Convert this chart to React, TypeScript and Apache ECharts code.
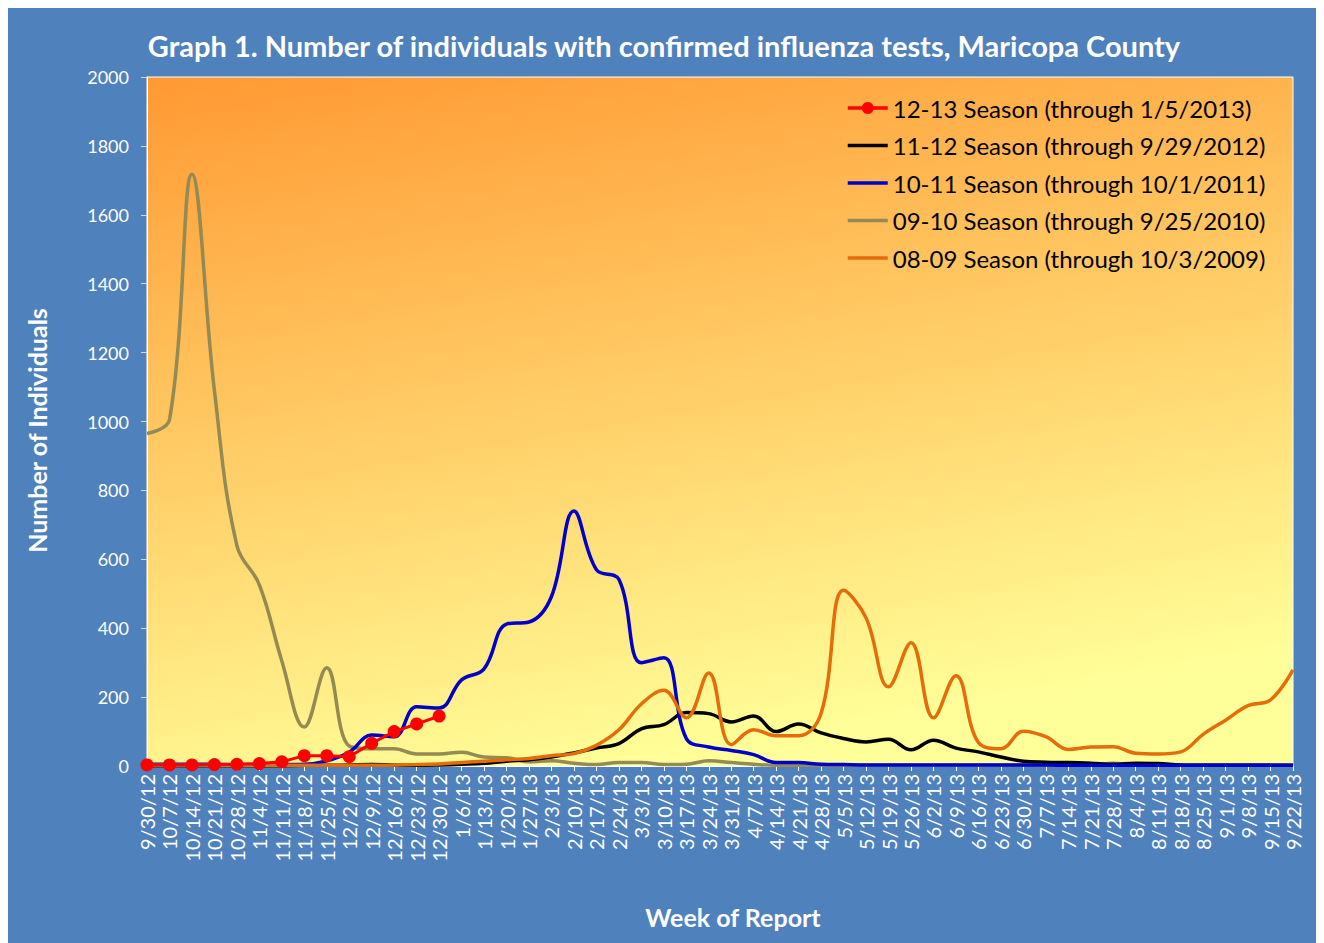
import React, { useEffect, useRef } from "react";
import * as echarts from "echarts";

const weeks = [
  "9/30/12", "10/7/12", "10/14/12", "10/21/12", "10/28/12", "11/4/12", "11/11/12", "11/18/12",
  "11/25/12", "12/2/12", "12/9/12", "12/16/12", "12/23/12", "12/30/12", "1/6/13", "1/13/13",
  "1/20/13", "1/27/13", "2/3/13", "2/10/13", "2/17/13", "2/24/13", "3/3/13", "3/10/13",
  "3/17/13", "3/24/13", "3/31/13", "4/7/13", "4/14/13", "4/21/13", "4/28/13", "5/5/13",
  "5/12/13", "5/19/13", "5/26/13", "6/2/13", "6/9/13", "6/16/13", "6/23/13", "6/30/13",
  "7/7/13", "7/14/13", "7/21/13", "7/28/13", "8/4/13", "8/11/13", "8/18/13", "8/25/13",
  "9/1/13", "9/8/13", "9/15/13", "9/22/13",
];

const season1213 = [3, 3, 3, 4, 5, 7, 12, 30, 30, 27, 66, 100, 122, 145];

const season1112 = [
  1, 1, 1, 1, 1, 1, 1, 2, 2, 3, 4, 3, 2, 3, 5, 8,
  14, 18, 26, 38, 52, 65, 108, 120, 155, 152, 128, 145, 100, 122, 96, 80,
  70, 78, 47, 75, 52, 41, 26, 14, 11, 10, 8, 5, 8, 7, 3, 2,
  2, 2, 2, 2,
];

const season1011 = [
  5, 5, 5, 5, 4, 4, 4, 5, 15, 40, 90, 85, 172, 168, 250, 282,
  412, 418, 492, 740, 570, 542, 300, 314, 80, 55, 45, 33, 10, 10, 5, 4,
  3, 3, 3, 3, 3, 3, 3, 3, 3, 2, 2, 2, 2, 2, 2, 2,
  2, 2, 2, 2,
];

const season0910 = [
  965, 1005, 1718, 1090, 640, 526, 305, 113, 285, 58, 50, 50, 35, 35, 40, 26,
  24, 12, 15, 8, 4, 10, 10, 4, 5, 15, 10, 5, 2, 2, 2, 2,
  2, 2, 2, 2, 2, 2, 2, 2, 2, 8, 2, 8, 2, 2, 2, 2,
  2, 2, 2,
];

const season0809 = [
  2, 2, 2, 2, 2, 2, 2, 2, 2, 2, 2, 3, 4, 6, 10, 14,
  18, 22, 30, 36, 60, 105, 180, 220, 140, 270, 62, 105, 88, 88, 153, 510,
  430, 230, 358, 140, 262, 68, 50, 101, 85, 48, 55, 56, 37, 35, 41, 92,
  133, 175, 192, 279,
];

const seriesNames = [
  "12-13 Season (through 1/5/2013)",
  "11-12 Season (through 9/29/2012)",
  "10-11 Season (through 10/1/2011)",
  "09-10 Season (through 9/25/2010)",
  "08-09 Season (through 10/3/2009)",
];

const seriesColors = ["#FF0000", "#000000", "#0000C8", "#948A54", "#E46C0A"];

const FONT = "Lato, 'Open Sans', sans-serif";

export default function App() {
  const ref = useRef<HTMLDivElement>(null);

  useEffect(() => {
    if (!ref.current) return;
    const chart = echarts.init(ref.current, undefined, { renderer: "svg" });
    const smoothLine = (name: string, data: number[], color: string, z: number) => ({
      name,
      type: "line",
      data,
      smooth: 0.4,
      symbol: "none",
      z,
      lineStyle: { color, width: 3.5 },
      itemStyle: { color },
    });
    chart.setOption({
      animation: false,
      backgroundColor: "#4F81BD",
      textStyle: { fontFamily: FONT },
      title: {
        text: "Graph 1. Number of individuals with confirmed influenza tests, Maricopa County",
        left: "center",
        top: 18,
        textStyle: { color: "#fff", fontSize: 29, fontWeight: "bold", fontFamily: FONT },
      },
      grid: {
        left: 139,
        top: 69,
        right: 27,
        bottom: 177,
        show: true,
        borderColor: "#ffffff",
        borderWidth: 1,
        backgroundColor: {
          type: "linear",
          x: 0,
          y: 0,
          x2: 0.3,
          y2: 1.04,
          colorStops: [
            { offset: 0, color: "#FF9933" },
            { offset: 1, color: "#FFFF99" },
          ],
        },
      },
      legend: {
        orient: "vertical",
        left: 833,
        top: 81,
        itemWidth: 40,
        itemHeight: 15,
        itemGap: 9.5,
        textStyle: { color: "#000", fontSize: 24, fontFamily: FONT, lineHeight: 28 },
        data: seriesNames.map((name, i) =>
          i === 0
            ? { name, lineStyle: { width: 3.5, color: seriesColors[i] } }
            : {
                name,
                itemStyle: { opacity: 0 },
                lineStyle: { width: 3.5, color: seriesColors[i] },
              }
        ),
      },
      xAxis: {
        type: "category",
        data: weeks,
        boundaryGap: false,
        name: "Week of Report",
        nameLocation: "middle",
        nameGap: 138,
        nameTextStyle: { color: "#fff", fontSize: 25, fontWeight: "bold", padding: [0, 0, 0, 26] },
        axisLine: { show: true, lineStyle: { color: "#fff", width: 1 } },
        axisTick: { show: true, length: 5, lineStyle: { color: "#fff" } },
        axisLabel: { color: "#fff", rotate: 90, interval: 0, fontSize: 20, margin: 8 },
        splitLine: { show: false },
      },
      yAxis: {
        type: "value",
        min: 0,
        max: 2000,
        interval: 200,
        name: "Number of Individuals",
        nameLocation: "middle",
        nameRotate: 90,
        nameGap: 98,
        nameTextStyle: { color: "#fff", fontSize: 25, fontWeight: "bold", padding: [0, 0, 0, -18] },
        axisLine: { show: true, lineStyle: { color: "#fff", width: 1 } },
        axisTick: { show: true, length: 6, lineStyle: { color: "#D9D9D9" } },
        axisLabel: {
          color: "#fff",
          fontSize: 18,
          margin: 18,
          formatter: (v: number) => String(v),
        },
        splitLine: { show: false },
      },
      series: [
        {
          name: seriesNames[0],
          type: "line",
          data: season1213,
          symbol: "circle",
          symbolSize: 13,
          z: 10,
          lineStyle: { color: seriesColors[0], width: 3 },
          itemStyle: { color: seriesColors[0] },
        },
        smoothLine(seriesNames[1], season1112, seriesColors[1], 4),
        smoothLine(seriesNames[2], season1011, seriesColors[2], 5),
        smoothLine(seriesNames[3], season0910, seriesColors[3], 3),
        smoothLine(seriesNames[4], season0809, seriesColors[4], 6),
      ],
    });
    return () => chart.dispose();
  }, []);

  return <div ref={ref} style={{ width: 1312, height: 935 }} />;
}
